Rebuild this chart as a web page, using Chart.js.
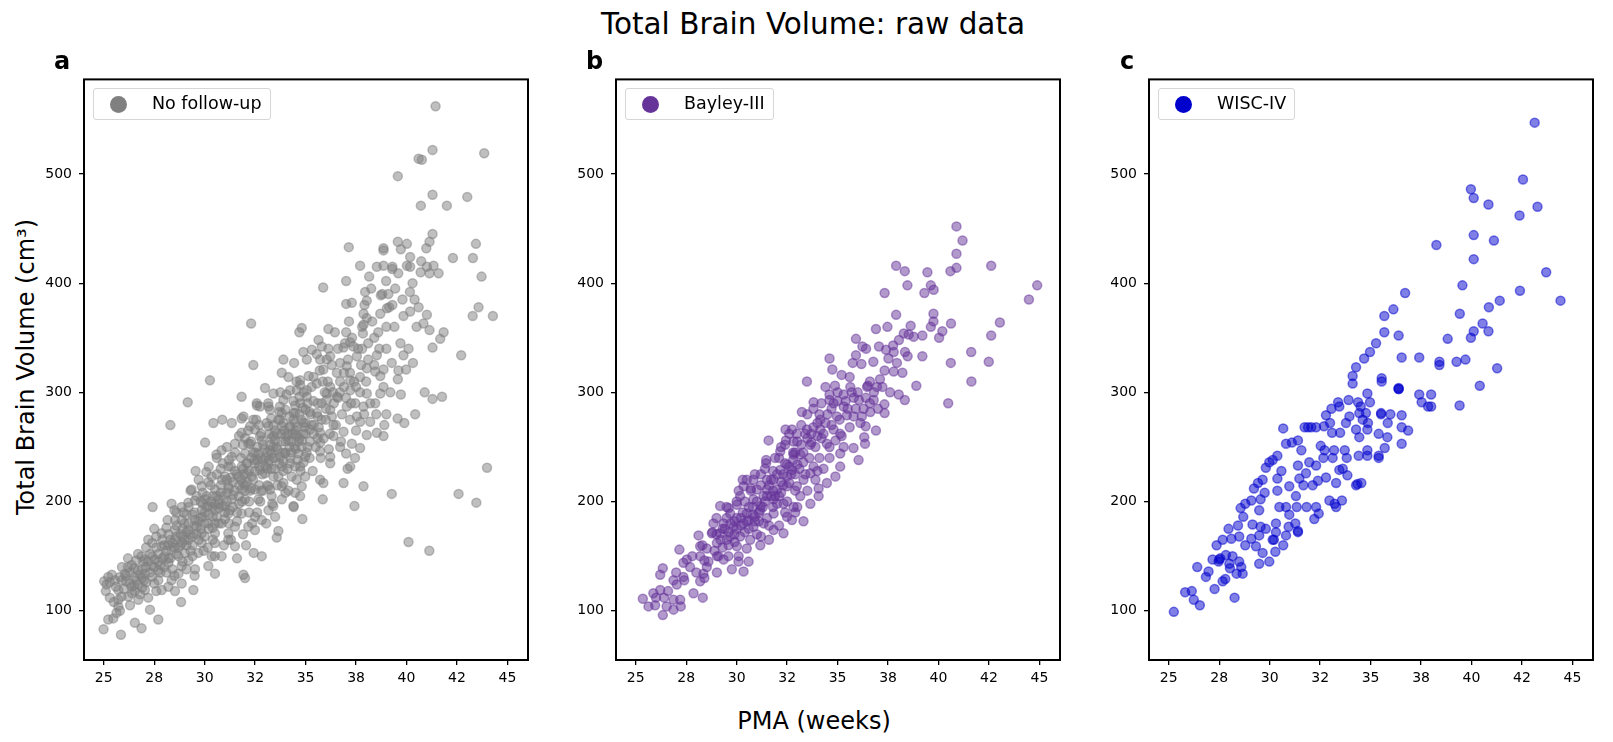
<!DOCTYPE html>
<html>
<head>
<meta charset="utf-8">
<script src="https://cdn.jsdelivr.net/npm/chart.js@4.4.0/dist/chart.umd.min.js"></script>
<style>
  body { margin: 0; background: #fff; font-family: "DejaVu Sans", sans-serif; }
  #fig { position: relative; width: 1613px; height: 742px; overflow: hidden; }
  .panel { position: absolute; top: 64px; width: 514px; height: 636px; }
  .txt { position: absolute; line-height: 1; white-space: nowrap; color: #000; }
  .letter { font-weight: bold; font-size: 24px; top: 49px; }
  .legend { position: absolute; top: 88px; height: 32px; border: 1px solid #d6d6d6; border-radius: 3px; background: #fff; box-sizing: border-box; }
  .legend .dot { position: absolute; left: 16px; top: 6.5px; width: 17.4px; height: 17.4px; border-radius: 50%; }
  .legend .lab { position: absolute; left: 58px; top: 6px; font-size: 17.5px; line-height: 1; white-space: nowrap; }
</style>
</head>
<body>
<div id="fig">
  <div class="txt" style="left:813px;top:10px;font-size:29.5px;transform:translateX(-50%)">Total Brain Volume: raw data</div>
  <div class="txt" style="left:814px;top:709px;font-size:24px;transform:translateX(-50%)">PMA (weeks)</div>
  <div class="txt" style="left:-174px;top:355px;width:400px;height:24px;font-size:24px;text-align:center;transform:rotate(-90deg)">Total Brain Volume (cm³)</div>

  <div class="panel" style="left:24px"><canvas id="chartA"></canvas></div>
  <div class="panel" style="left:556px"><canvas id="chartB"></canvas></div>
  <div class="panel" style="left:1089px"><canvas id="chartC"></canvas></div>

  <div class="txt letter" style="left:54px">a</div>
  <div class="txt letter" style="left:586px">b</div>
  <div class="txt letter" style="left:1120px">c</div>

  <div class="legend" style="left:93px;width:178px"><div class="dot" style="background:#808080"></div><div class="lab">No follow-up</div></div>
  <div class="legend" style="left:625px;width:149px"><div class="dot" style="background:#663399"></div><div class="lab">Bayley-III</div></div>
  <div class="legend" style="left:1158px;width:137px"><div class="dot" style="background:#0000cd"></div><div class="lab">WISC-IV</div></div>
</div>

<script>
// axes
const xTicks = [25, 27.5, 30, 32.5, 35, 37.5, 40, 42.5, 45];
const xTickLabels = ['25', '28', '30', '32', '35', '38', '40', '42', '45'];
const yTicks = [100, 200, 300, 400, 500];

// [PMA (weeks), TBV (cm3)]
const noFollowUp = [
  [41.44,562],[41.29,522],[43.85,519],[40.60,514],[40.76,513],[39.57,498],[41.29,481],[43.01,479],[40.71,471],[42.00,471],
  [41.29,445],[41.14,438],[40.98,432],[39.57,438],[40.02,436],[38.86,432],[38.86,430],[39.72,431],[43.44,436],[42.30,423],
  [43.29,423],[43.72,406],[37.14,433],[37.70,416],[38.15,406],[38.53,415],[38.86,416],[39.29,413],[39.59,409],[40.02,416],
  [40.18,424],[40.18,415],[40.73,420],[41.01,415],[41.34,416],[41.14,409],[41.59,409],[37.01,402],[35.87,396],[38.99,402],
  [39.44,395],[40.17,392],[38.73,389],[37.95,392],[38.03,384],[37.01,381],[37.29,382],[37.92,380],[37.87,372],[38.03,368],
  [37.87,362],[37.84,354],[39.03,377],[39.14,378],[39.85,370],[40.18,374],[40.60,378],[41.01,371],[40.84,363],[41.14,357],
  [41.84,355],[41.67,349],[43.57,378],[43.28,370],[44.28,370],[34.81,359],[34.69,355],[36.13,358],[35.64,348],[37.01,355],
  [37.21,346],
  [41.29,341],[42.71,334],[37.37,342],[36.88,341],[36.13,340],[35.80,342],[34.89,337],[35.31,339],[33.90,330],[34.43,327],
  [32.41,325],[32.30,363],[35.06,330],[35.72,330],[36.22,333],[36.71,327],[37.04,324],[37.54,333],[38.03,322],[38.53,334],
  [38.45,319],[38.86,321],[39.27,327],[39.85,334],[40.32,327],[39.98,321],[39.57,312],[37.70,314],[37.21,311],[36.55,318],
  [35.88,321],[35.39,314],[34.73,311],[34.15,314],[33.82,318],[32.99,304],[33.41,299],[34.23,302],[34.73,307],[35.06,302],
  [35.55,308],[36.22,305],[36.71,310],[36.05,299],[36.55,296],[37.21,302],[38.03,299],[38.70,299],[38.86,305],[38.45,290],
  [39.00,280],[39.72,298],[39.56,276],[39.89,272],[40.43,280],[41.29,294],[41.76,296],[43.99,231],[37.04,287],[37.46,290],
  [37.87,287],[37.54,278],[38.20,273],[37.70,273],[38.53,263],[38.86,260],[38.03,261],[37.70,249],[37.29,253],[36.88,264],
  [36.38,260],[36.71,250],[37.01,244],[37.21,232],[37.08,230],[36.22,235],[35.88,217],[35.72,220],[34.98,241],[35.22,255],
  [35.72,254],[36.38,270],[35.55,281],[36.22,284],[36.05,293],[35.39,292],[34.73,290],[34.40,281],[33.73,287],[33.24,284],
  [32.74,287],[32.58,290],[31.92,278],[32.41,275],[33.07,272],[33.73,275],[34.23,269],[34.89,272],[35.72,263],[36.88,217],
  [37.87,214],[39.27,207],[42.58,207],[43.46,199],[35.85,202],[37.42,196],[31.83,296],[33.90,293],[34.56,302],[35.06,296],
  [35.22,266],[34.56,260],[34.07,260],[33.40,260],[32.74,260],[32.25,253],[33.24,247],[33.73,241],[34.23,235],[34.73,232],
  [34.56,220],[33.90,217],[33.41,223],[32.74,229],[32.08,235],[34.73,205],[33.24,211],[34.40,196],[35.72,246],[36.22,241],
  [40.10,163],[41.13,155],[30.26,311],
  [29.16,291],[28.30,270],[30.02,254],[30.43,272],[30.87,275],[31.34,272],[31.83,276],[32.25,269],[32.59,288],[33.16,287],
  [34.48,288],[34.84,184],[34.41,195],[33.65,173],[33.57,167],[32.83,150],[32.43,153],[31.92,133],[32.00,130],[29.55,228],
  [30.08,227],[30.18,218],[30.58,243],[30.84,247],[29.35,211],[29.52,201],[28.36,198],[28.86,195],[27.42,195],[28.16,183],
  [28.53,183],[27.87,171],[27.40,162],[26.87,150],[26.38,142],[26.05,134],[25.22,131],[25.02,127],[25.55,128],[25.14,124],
  [25.72,119],[25.72,110],[25.72,104],[25.63,98],[25.22,92],[24.99,83],[25.47,93],[25.85,78],[26.54,89],[26.87,84],
  [27.70,92],[27.29,101],[28.83,108],[26.21,113],[26.54,118],[27.04,119],[27.87,119],[28.53,118],[29.44,119],[28.86,125],
  [28.36,128],[27.70,128],[27.04,134],[26.54,131],[27.53,147],[28.20,144],[28.86,141],[29.52,138],[30.18,141],[30.51,134],
  [30.84,150],[30.35,150],[29.68,153],[29.02,153],[28.36,156],[27.87,159],[27.37,141],[27.04,147],[28.53,165],[29.19,165],
  [29.85,162],[30.51,162],[31.17,165],[31.50,159],[31.17,171],[30.51,171],[29.85,171],[29.19,174],[28.53,174],[28.86,183],
  [29.52,183],[30.18,180],[30.84,180],[31.50,177],[32.16,177],[32.49,174],[32.83,183],[33.49,186],[33.16,192],[32.49,186],
  [31.83,189],[31.17,189],[30.51,192],[29.85,192],[29.19,199],[30.02,202],[30.68,202],[31.34,202],[32.00,202],[32.66,202],
  [33.32,205],[33.82,202],[34.48,208],[34.81,214],[33.82,214],[33.16,214],[32.49,211],[31.83,211],[31.17,214],[30.51,211],
  [29.85,214],[30.35,223],[31.01,223],[31.67,223],[32.33,223],[32.99,226],[33.65,223],[34.31,223],[34.98,223],[34.48,232],
  [33.82,232],[33.16,235],[32.49,235],[31.83,232],[31.17,232],[31.34,241],[32.00,244],[32.66,244],[33.32,244],[33.98,244],
  [34.64,244],[34.81,256],[34.15,256],[33.49,256],[32.83,256],[32.16,253],[31.50,253],[31.83,263],[32.49,266],[33.16,269],
  [33.82,269],[34.48,272],[34.48,281],[33.82,281],[25.88,113],[26.38,122],[26.71,110],
  [26.9,138],[27.3,152],[27.7,137],[28.0,150],[28.2,160],[28.6,152],[28.9,168],[29.2,146],[29.4,160],[29.6,177],
  [29.9,186],[30.2,196],[30.0,168],[30.4,176],[30.6,186],[30.9,196],[31.1,208],[31.4,218],[31.7,198],[31.9,217],
  [32.1,226],[32.3,240],[32.6,250],[32.9,238],[33.1,230],[33.4,250],[33.6,262],[33.9,237],[34.2,250],[34.5,262],
  [34.0,208],[33.4,196],[32.8,210],[32.2,190],[31.6,182],[31.0,184],[30.4,205],[29.8,200],[29.1,188],[28.6,190],
  [28.1,176],[27.6,168],[27.1,158],[26.6,146],[26.2,140],[25.9,128],[26.7,124],[31.2,238],[30.8,230],[32.0,258],
  [32.7,270],[33.3,276],[34.0,284],[34.7,296],[35.0,284],[35.3,270],[35.6,258],[35.1,250],[34.9,236],
  [25.1,118],[25.3,126],[25.4,133],[25.6,122],[25.8,131],[25.9,140],[25.5,108],[25.8,100],[25.3,112],
  [26.1,127],[26.2,148],[26.3,135],[26.4,116],[26.5,139],[26.6,128],[26.7,152],[26.8,133],[26.9,121],[26.95,145],[26.3,105],[26.8,115],
  [27.0,128],[27.1,140],[27.2,165],[27.3,135],[27.4,150],[27.5,125],[27.6,158],[27.7,145],[27.8,135],[27.9,165],[27.2,112],[27.5,175],[27.9,148],[27.6,118],
  [28.0,160],[28.1,135],[28.2,170],[28.3,148],[28.4,162],[28.5,132],[28.6,178],[28.7,158],[28.8,170],[28.9,145],[28.95,190],[28.2,122],[28.5,192],[28.7,134],[28.9,162],
  [29.0,180],[29.1,160],[29.2,195],[29.3,170],[29.4,150],[29.5,178],[29.6,205],[29.7,165],[29.8,185],[29.9,198],[29.1,138],[29.3,210],[29.5,132],[29.7,220],[29.95,155],[29.4,188],
  [30.0,190],[30.1,205],[30.2,175],[30.3,215],[30.4,165],[30.5,198],[30.6,225],[30.7,180],[30.8,208],[30.9,235],[30.95,160],[30.2,232],[30.5,150],[30.7,194],[30.4,186],[30.85,220],[30.15,158],[30.6,240],
  [31.0,196],[31.1,220],[31.2,180],[31.3,232],[31.4,206],[31.5,245],[31.6,190],[31.7,215],[31.8,240],[31.9,170],[31.95,225],[31.1,250],[31.3,165],[31.5,228],[31.7,260],[31.85,200],[31.25,192],[31.6,148],[31.9,252],
  [32.0,215],[32.1,235],[32.2,200],[32.3,255],[32.4,220],[32.5,245],[32.6,190],[32.7,232],[32.8,262],[32.9,210],[32.95,248],[32.15,265],[32.35,180],[32.55,275],[32.75,200],[32.05,160],[32.45,238],[32.85,225],[32.25,210],
  [33.0,240],[33.1,215],[33.2,262],[33.3,230],[33.4,270],[33.5,240],[33.6,215],[33.7,282],[33.8,255],[33.9,228],[33.95,265],[33.15,290],[33.35,198],[33.55,250],[33.75,300],[33.05,180],[33.45,230],[33.85,245],[33.65,275],[33.25,252],
  [34.0,255],[34.1,230],[34.2,278],[34.3,245],[34.4,292],[34.5,265],[34.6,238],[34.7,280],[34.8,250],[34.9,300],[34.95,268],[34.15,210],[34.35,262],[34.55,310],[34.75,228],[34.05,298],[34.45,250],[34.85,286],[34.25,240],[34.65,255],
  [35.0,262],[35.1,290],[35.2,240],[35.3,305],[35.4,270],[35.5,250],[35.6,290],[35.7,320],[35.8,275],[35.9,258],[35.95,300],[35.15,315],[35.35,228],[35.55,335],[35.75,240],[35.25,280],[35.65,268],[35.85,310],[35.05,245],
  [36.0,275],[36.1,310],[36.2,262],[36.3,325],[36.4,290],[36.5,270],[36.6,340],[36.7,300],[36.8,280],[36.9,318],[36.15,248],[36.45,355],[36.75,255],[36.35,300],[36.95,345],[36.05,330],
  [37.0,295],[37.1,330],[37.2,275],[37.3,350],[37.4,310],[37.5,265],[37.6,340],[37.7,300],[37.8,360],[37.9,280],[37.15,365],[37.45,240],[37.75,325],[37.25,290],
  [38.0,310],[38.1,345],[38.2,290],[38.3,365],[38.4,325],[38.5,280],[38.6,355],[38.7,315],[38.8,390],[38.9,270],[38.25,395],[38.65,340],
  [39.0,340],[39.2,300],[39.4,360],[39.6,320],[39.8,385],[39.3,415],[39.7,345],[39.1,390],
  [40.1,340],[40.3,400],[40.5,360],[40.7,410],[40.9,300],[40.4,385],
  [26.0,120],[26.1,132],[26.3,125],[26.5,123],[26.7,137],[26.9,130],[27.1,126],[27.2,145],[27.4,131],[27.5,140],
  [27.7,152],[27.8,142],[28.0,140],[28.1,155],[28.2,148],[28.3,165],[28.4,138],[28.5,158],[28.6,168],[28.7,150],
  [28.8,160],[28.9,175],[29.0,165],[29.1,172],[29.2,180],[29.3,155],[29.4,168],[29.5,190],[29.6,170],[29.7,182],
  [29.8,175],[29.9,208],[30.0,180],[30.1,195],[30.2,188],[30.3,200],[30.4,195],[30.5,180],[30.6,205],[30.7,198],
  [30.8,215],[30.9,205],[31.0,190],[31.1,200],[31.2,212],[31.3,222],[31.4,195],[31.5,210],[31.6,225],[31.7,205],
  [31.8,220],[31.9,230],[32.0,210],[32.1,218],[32.2,228],[32.3,212],[32.4,245],[32.5,228],[32.6,238],[32.7,215],
  [32.8,240],[32.9,252],[33.0,232],[33.1,245],[33.2,238],[33.3,258],[33.4,240],[33.5,265],[33.6,248],[33.7,235],
  [33.8,262],[33.9,272],[34.0,245],[34.1,262],[34.2,268],[34.3,255],[34.4,275],[34.5,248],[34.6,268],[34.7,258],
  [34.8,275],[34.9,262],[35.0,272],[35.2,282],[35.4,262],[35.6,278],[35.8,290],[36.0,285],[36.3,278],[36.6,295],
  [36.9,305],[37.2,318],[37.5,305],[37.8,340],[38.1,330],[38.4,350],[38.7,372],[39.0,360],[39.3,380]
];

const bayley = [
  [40.89,452],[41.19,439],[40.89,427],[40.89,414],[40.59,411],[42.61,416],[37.90,416],[38.33,411],[39.45,410],[44.89,398],
  [44.48,385],[37.33,391],[38.46,398],[39.62,398],[39.76,394],[39.30,391],[37.90,371],[39.75,372],[39.75,365],[39.62,360],
  [40.62,363],[43.04,364],[40.19,356],[40.03,350],[42.61,352],[36.90,358],[37.47,360],[38.62,361],[38.28,354],[38.52,353],
  [38.77,351],[39.20,352],[38.04,348],[35.91,349],[36.23,342],[36.41,340],[35.91,334],[37.05,342],[37.75,343],[37.40,339],
  [37.78,337],[38.34,337],[38.47,333],[39.20,333],[41.62,337],[42.49,328],[40.61,327],[41.63,310],[40.48,290],[34.60,331],
  [34.74,321],[35.75,327],[36.18,326],[36.77,328],[37.33,320],[37.78,319],[38.21,318],[37.94,327],[37.52,331],[38.90,306],
  [38.03,298],[38.33,293],[37.32,289],[37.33,281],[36.90,265],[36.79,293],[36.46,305],[36.50,306],[36.95,305],[37.22,305],
  [36.62,282],[36.29,285],[36.06,293],[35.63,305],[35.20,316],[35.60,314],[34.87,306],[33.48,310],[33.81,291],[34.60,298],
  [34.60,293],[33.23,282],[35.30,287],[35.46,279],[35.79,278],[36.13,272],[36.39,269],[36.32,259],[36.36,253],[35.79,249],
  [33.48,266],[34.14,266],[34.80,266],[35.13,262],[34.47,253],[33.65,252],[35.13,244],[34.14,275],[34.97,278],
  [32.74,266],[32.42,266],[32.98,262],[32.40,252],[32.82,255],[32.16,246],[32.44,256],[31.58,256],[31.46,238],[31.46,235],
  [32.16,229],[32.49,223],[31.83,220],[31.50,220],[30.83,220],[30.50,220],[30.34,214],[31.00,211],[31.50,211],[32.00,211],
  [32.49,214],[32.98,214],[33.15,243],[32.82,243],[33.00,234],[32.74,229],[32.49,234],[33.31,220],[33.65,226],[33.81,232],
  [35.13,232],[34.89,223],[34.47,217],[34.06,212],[34.06,205],[36.04,238],[33.15,205],[33.65,198],[32.82,195],[32.32,198],
  [31.83,202],[31.33,205],[30.83,202],[30.17,205],[30.01,197],[29.18,196],[29.68,189],[30.50,189],[31.17,192],[31.83,189],
  [32.49,186],[32.74,183],[33.31,182],[32.32,171],[31.83,174],[31.33,180],[30.83,177],[30.34,180],[29.84,177],[29.35,180],
  [28.85,180],[28.77,171],[29.18,171],[29.68,168],[30.17,168],[30.67,165],[31.17,160],[30.50,157],[30.01,159],[29.51,165],
  [29.02,162],[28.11,169],[28.19,159],[28.52,157],[28.19,150],[29.02,150],[29.59,150],[29.35,147],[30.09,145],[30.59,145],
  [29.76,138],[30.34,136],[27.16,156],[27.53,147],[27.36,144],[27.69,140],[28.52,140],[28.35,134],[29.02,135],[28.19,127],
  [27.86,116],[28.32,112],[27.36,131],[26.87,128],[27.03,124],[26.34,139],[26.21,133],[25.87,116],[26.21,119],[26.40,112],
  [26.87,110],[27.20,110],[25.35,111],[25.63,104],[25.96,105],[26.34,96],[26.87,101],[26.53,104],[27.23,104],
  [30.0,185],[30.3,190],[30.6,183],[30.9,186],[31.2,196],[31.5,185],[31.9,205],[32.2,208],[32.6,217],[32.9,225],
  [33.3,236],[30.0,175],[29.5,185],[31.0,170],[31.6,165],[32.1,178],[32.9,190],[33.5,210],[33.9,220],[34.3,230],
  [34.6,240],[33.7,254],[34.2,258],[32.1,240],[31.8,228],[31.2,225],[30.7,212],[30.1,210],[29.6,194],[29.9,163],
  [28.9,155],[28.4,146],[29.3,158],
  [27.8,150],[28.0,135],[28.3,160],[28.6,145],[28.8,172],[29.0,185],[29.2,165],[29.4,175],[29.5,195],[29.7,180],
  [29.9,170],[30.0,200],[30.2,185],[30.3,220],[30.4,172],[30.6,195],[30.7,210],[30.8,188],[30.9,225],[31.0,200],
  [31.1,182],[31.2,215],[31.3,195],[31.4,230],[31.5,205],[31.6,178],[31.7,220],[31.8,195],[31.9,240],[32.0,225],
  [32.1,205],[32.2,250],[32.3,215],[32.4,235],[32.5,200],[32.6,262],[32.7,225],[32.8,245],[32.9,210],[33.0,255],
  [33.1,230],[33.2,270],[33.3,245],[33.4,225],[33.5,280],[33.6,240],[33.7,262],[33.8,285],[33.9,250],[34.0,272],
  [34.1,240],[34.2,290],[34.3,262],[34.4,305],[34.5,280],[34.6,250],[34.7,270],[34.8,290],[34.9,256],[35.0,300],
  [35.1,275],[35.2,260],[35.3,298],[35.5,285],[35.6,268],[35.7,300],[35.9,285],[36.0,300],[36.2,278],[36.4,295],
  [36.6,310],[36.8,300],[37.0,285],[37.1,312],[29.1,150],[29.6,160],[30.1,150],[30.6,175],[31.2,168],[31.8,210],
  [32.4,190],[28.4,130],[27.4,128],[26.6,118],[26.0,112],[27.0,135],[33.0,195],[34.0,228],[35.3,250],[36.6,290],[37.6,300],
  [29.0,170],[29.3,175],[29.6,172],[29.9,182],[30.2,178],[30.5,182],[30.8,195],[31.1,190],[31.4,200],[31.7,205],
  [32.0,198],[32.3,225],[32.6,232],[32.9,245],[33.2,252],[33.5,258],[33.8,268],[34.1,280],[34.4,272],[34.7,285],
  [35.0,292],[35.4,292],[35.8,295],[30.4,200],[30.9,182],[31.6,215],[32.2,218],[32.8,238],[33.4,262],[34.0,260]
];

const wisc = [
  [43.13,547],[42.55,495],[39.97,486],[40.11,478],[40.84,472],[43.27,470],[42.38,462],
  [40.11,444],[41.11,439],[38.26,435],[40.11,422],[43.70,410],[39.55,398],[42.40,393],[44.41,384],[41.40,384],[36.71,391],
  [36.13,376],[35.68,370],[40.86,378],[39.42,372],[40.55,363],[40.11,356],[40.84,356],[39.97,350],[38.82,349],[35.68,355],
  [36.39,352],[35.27,345],[34.97,337],[34.68,331],[34.28,323],[34.11,315],[34.11,308],[36.54,332],[37.41,332],[38.41,328],
  [38.41,325],[39.26,328],[39.70,330],[41.27,322],[40.41,306],[39.41,288],[35.55,313],[35.55,310],[36.39,303],[36.39,303],
  [36.39,304],[37.41,298],[38.00,298],[37.53,291],[37.85,287],[38.00,287],[34.84,299],[34.97,291],[36.54,279],[36.54,268],
  [36.86,265],[36.54,253],[35.70,249],[35.83,259],[35.40,262],[35.52,280],[35.52,281],[35.98,280],[35.85,272],[35.40,240],
  [35.40,242],
  [25.25,99],[25.81,117],[26.14,118],[26.24,110],[26.54,105],[26.41,140],[26.84,131],[26.97,136],[27.27,120],[28.26,112],
  [27.67,127],[27.80,129],[27.50,147],[27.37,160],[27.67,165],[27.96,175],[28.43,178],[27.17,147],[27.47,145],[27.83,151],
  [28.16,150],[28.49,145],[28.59,140],[28.36,134],[28.66,134],[28.03,139],[28.49,168],[28.10,166],[28.79,160],[29.09,166],
  [29.15,179],[29.32,159],[29.65,153],[29.48,143],[29.98,145],[29.81,175],[30.28,154],[30.15,165],[29.48,169],[29.55,177],
  [28.56,194],[28.79,198],[29.09,201],[28.69,186],[29.48,192],[29.55,202],[29.75,208],[29.22,212],[29.42,217],[29.65,220],
  [29.81,231],[29.98,236],[30.15,238],[30.38,242],[30.38,221],[30.38,210],[30.48,195],[30.58,228],[30.67,267],[30.81,253],
  [31.10,254],[31.40,256],[31.57,247],[31.73,268],[31.90,268],[32.06,268],[32.30,268],[30.97,214],[31.30,205],[31.47,221],
  [31.40,233],[31.96,236],[31.80,226],[31.67,215],[32.13,215],[32.39,219],[32.30,233],[32.79,222],[30.81,195],[30.97,188],
  [31.34,195],[31.83,195],[32.30,195],[32.43,189],[32.21,184],[31.40,172],[31.40,173],[31.27,180],[30.94,177],[30.31,180],
  [30.31,172],[30.21,165],[30.81,169],[30.67,160],[32.53,251],[32.72,247],[33.19,247],[32.66,240],[33.12,240],[33.72,247],
  [33.82,240],[33.62,230],[33.45,229],[33.85,224],[33.29,217],[32.96,201],[33.22,198],[33.58,201],[33.29,195],[34.28,215],
  [34.35,216],[34.54,217],[32.69,269],[32.99,272],[33.09,263],[33.49,263],[33.78,272],[33.95,278],[32.79,279],[33.06,285],
  [33.39,291],[33.45,287],[33.91,293],[34.38,291],[34.51,287],[34.44,281],[34.77,281],[34.61,275],[34.28,266],[34.44,259],
  [34.87,272],[34.84,266],[34.84,247],[34.41,242],[34.84,242],[27.55,148],[28.00,143]
];

// black frame round the plot area, like matplotlib spines
const framePlugin = {
  id: 'frame',
  afterDraw(chart) {
    const a = chart.chartArea;
    const ctx = chart.ctx;
    ctx.save();
    ctx.strokeStyle = '#000';
    ctx.lineWidth = 2;
    ctx.strokeRect(a.left, a.top, a.right - a.left, a.bottom - a.top);
    ctx.restore();
  }
};

function makePanel(id, points, rgb) {
  const tickFont = { family: 'DejaVu Sans', size: 14 };
  return new Chart(document.getElementById(id), {
    type: 'scatter',
    data: {
      datasets: [{
        data: points.map(p => ({ x: p[0], y: p[1] })),
        backgroundColor: `rgba(${rgb},0.5)`,
        borderColor: `rgba(${rgb},0.5)`,
        borderWidth: 1.5,
        pointRadius: 4.5,
        pointHoverRadius: 4.5
      }]
    },
    options: {
      responsive: true,
      maintainAspectRatio: false,
      animation: false,
      events: [],
      layout: { padding: { top: 15, right: 10, left: 0, bottom: 0 } },
      plugins: { legend: { display: false }, tooltip: { enabled: false } },
      scales: {
        x: {
          type: 'linear',
          min: 24.02,
          max: 46.02,
          afterBuildTicks: s => { s.ticks = xTicks.map(v => ({ value: v })); },
          afterFit: s => { s.height = 40; },
          ticks: {
            font: tickFont, color: '#000', padding: 5, autoSkip: false, maxRotation: 0,
            callback: (v, i) => xTickLabels[i]
          },
          grid: { drawOnChartArea: false, drawTicks: true, tickLength: 5, color: '#000', lineWidth: 1.3 },
          border: { display: false }
        },
        y: {
          type: 'linear',
          min: 54.9,
          max: 586.6,
          afterBuildTicks: s => { s.ticks = yTicks.map(v => ({ value: v })); },
          afterFit: s => { s.width = 60; },
          ticks: { font: tickFont, color: '#000', padding: 7, callback: v => String(v) },
          grid: { drawOnChartArea: false, drawTicks: true, tickLength: 5, color: '#000', lineWidth: 1.3 },
          border: { display: false }
        }
      }
    },
    plugins: [framePlugin]
  });
}

makePanel('chartA', noFollowUp, '128,128,128');
makePanel('chartB', bayley, '102,51,153');
makePanel('chartC', wisc, '0,0,205');
</script>
</body>
</html>
